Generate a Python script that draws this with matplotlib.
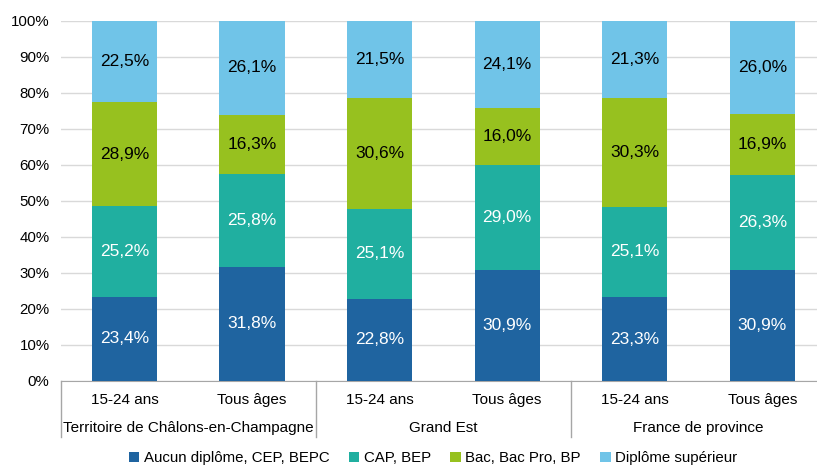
import matplotlib
matplotlib.use('Agg')
import matplotlib.pyplot as plt
import numpy as np

plt.rcParams['font.family'] = ['Liberation Sans', 'DejaVu Sans']

groups = ['Territoire de Châlons-en-Champagne', 'Grand Est', 'France de province']
ages = ['15-24 ans', 'Tous âges']
series = ['Aucun diplôme, CEP, BEPC', 'CAP, BEP', 'Bac, Bac Pro, BP', 'Diplôme supérieur']
aucun = [23.4, 31.8, 22.8, 30.9, 23.3, 30.9]
cap = [25.2, 25.8, 25.1, 29.0, 25.1, 26.3]
bac = [28.9, 16.3, 30.6, 16.0, 30.3, 16.9]
sup = [22.5, 26.1, 21.5, 24.1, 21.3, 26.0]
colors = ['#1F64A0', '#20AFA0', '#97C11F', '#70C4E8']
text_colors = ['white', 'white', 'black', 'black']

W, H = 817, 466
fig = plt.figure(figsize=(W / 100, H / 100), dpi=100)
ax = fig.add_axes([60.7 / W, (H - 381) / H, (826 - 60.7) / W, 360 / H])

x = np.arange(6)
bottom = np.zeros(6)
for vals, col, tc, name in zip([aucun, cap, bac, sup], colors, text_colors, series):
    vals = np.array(vals)
    ax.bar(x, vals, 0.51, bottom=bottom, color=col, label=name, zorder=3)
    for xi, v, b in zip(x, vals, bottom):
        ax.text(xi, b + v / 2, ('%.1f%%' % v).replace('.', ','), ha='center', va='center',
                color=tc, fontsize=12.5, zorder=4)
    bottom += vals

ax.set_xlim(-0.5, 5.5)
ax.set_ylim(0, 100)
ax.set_yticks(np.arange(0, 101, 10))
ax.set_yticklabels(['%d%%' % t for t in range(0, 101, 10)], fontsize=10.8)
ax.yaxis.grid(True, color='#D9D9D9', linewidth=1, zorder=0)
ax.tick_params(axis='y', length=0, pad=8)
ax.set_xticks([])
for s in ['top', 'right', 'left']:
    ax.spines[s].set_visible(False)
ax.spines['bottom'].set_color('#A6A6A6')

trans = ax.get_xaxis_transform()
for xi in x:
    ax.text(xi, -19 / 360, ages[xi % 2], ha='center', va='center', fontsize=11,
            transform=trans, clip_on=False)
for gi, g in enumerate(groups):
    ax.text(gi * 2 + 0.5, -47 / 360, g, ha='center', va='center', fontsize=11,
            transform=trans, clip_on=False)
for b in [-0.5, 1.5, 3.5]:
    ax.plot([b, b], [0, -56 / 360], color='#A6A6A6', linewidth=1, transform=trans,
            clip_on=False)

handles, labels = ax.get_legend_handles_labels()
fig.legend(handles, labels, loc='center', bbox_to_anchor=(433 / W, (H - 458) / H),
           ncol=4, frameon=False, fontsize=10.8, handlelength=0.7, handleheight=0.7,
           handletextpad=0.3, columnspacing=1.3, borderaxespad=0)

fig.savefig('out.png', dpi=100)
